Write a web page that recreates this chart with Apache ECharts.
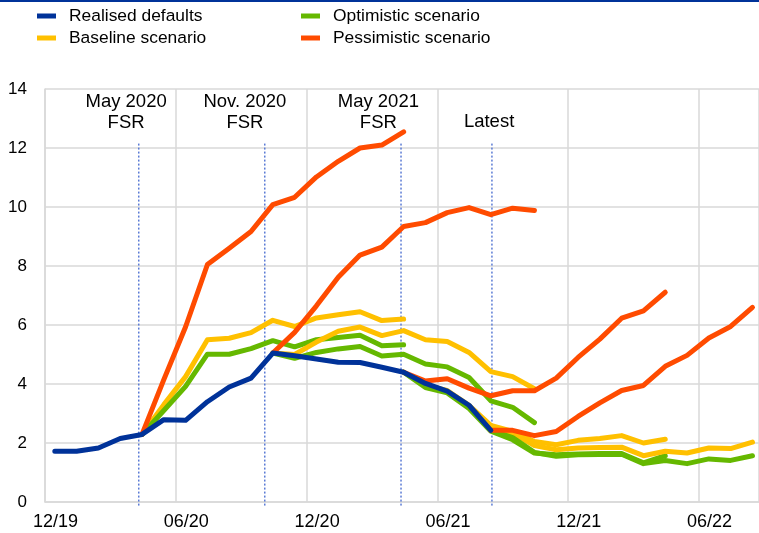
<!DOCTYPE html>
<html>
<head>
<meta charset="utf-8">
<script src="https://cdn.jsdelivr.net/npm/echarts@6/dist/echarts.min.js"></script>
<style>
  html, body { margin: 0; padding: 0; background: #fff; }
  #chart { width: 759px; height: 533px; }
</style>
</head>
<body>
<div id="chart"></div>
<script>
// month categories, Dec 2019 .. Aug 2022
var months = ['12/19', '01/20', '02/20', '03/20', '04/20', '05/20', '06/20', '07/20', '08/20', '09/20', '10/20', '11/20',
  '12/20', '01/21', '02/21', '03/21', '04/21', '05/21', '06/21', '07/21', '08/21', '09/21', '10/21', '11/21',
  '12/21', '01/22', '02/22', '03/22', '04/22', '05/22', '06/22', '07/22', '08/22'];
var tickLabels = ['12/19', '06/20', '12/20', '06/21', '12/21', '06/22'];

// realised defaults, from 12/19
var realised = [1.72, 1.72, 1.83, 2.15, 2.29, 2.79, 2.77, 3.4, 3.9, 4.2, 5.05, 4.96, 4.85, 4.74, 4.73, 4.57, 4.4, 4.02, 3.76, 3.28, 2.43];

// May 2020 FSR, from 04/20
var may20Base = [2.29, 3.3, 4.25, 5.5, 5.55, 5.74, 6.16, 5.95, 6.24, 6.35, 6.45, 6.15, 6.2];
var may20Opt = [2.29, 3.1, 3.92, 5.01, 5.01, 5.2, 5.47, 5.26, 5.5, 5.58, 5.65, 5.3, 5.33];
var may20Pess = [2.29, 4.15, 5.94, 8.05, 8.6, 9.17, 10.08, 10.33, 11.02, 11.55, 12.0, 12.1, 12.55];

// Nov. 2020 FSR, from 10/20
var nov20Base = [5.05, 5.0, 5.42, 5.79, 5.93, 5.64, 5.81, 5.5, 5.44, 5.07, 4.42, 4.25, 3.84];
var nov20Opt = [5.05, 4.87, 5.07, 5.19, 5.27, 4.95, 5.01, 4.68, 4.58, 4.22, 3.43, 3.21, 2.69];
var nov20Pess = [5.05, 5.75, 6.65, 7.62, 8.37, 8.64, 9.34, 9.47, 9.81, 9.98, 9.74, 9.96, 9.88];

// May 2021 FSR, from 04/21
var may21Base = [4.4, 3.95, 3.78, 3.28, 2.6, 2.39, 2.05, 1.94, 2.09, 2.15, 2.25, 2.0, 2.13];
var may21Opt = [4.4, 3.88, 3.7, 3.17, 2.4, 2.11, 1.66, 1.6, 1.63, 1.64, 1.64, 1.33, 1.57];
var may21Pess = [4.4, 4.1, 4.18, 3.86, 3.6, 3.77, 3.77, 4.2, 4.9, 5.52, 6.23, 6.48, 7.11];

// Latest, from 08/21
var latestBase = [2.43, 2.34, 1.91, 1.77, 1.83, 1.85, 1.86, 1.57, 1.72, 1.66, 1.83, 1.81, 2.03];
var latestOpt = [2.43, 2.18, 1.68, 1.55, 1.6, 1.61, 1.62, 1.3, 1.41, 1.3, 1.46, 1.41, 1.57];
var latestPess = [2.43, 2.43, 2.25, 2.39, 2.9, 3.36, 3.78, 3.95, 4.6, 4.97, 5.56, 5.95, 6.6];

// vintage markers (month position) and their labels
var fsrX = [4.3, 10.08, 16.33, 20.5];
var fsrLabels = ['May 2020\nFSR', 'Nov. 2020\nFSR', 'May 2021\nFSR', 'Latest'];
var fsrLabelX = [3.72, 9.17, 15.29, 20.37];
var fsrLabelY = [13.19, 13.19, 13.19, 12.89];

var names = {
  real: 'Realised defaults',
  base: 'Baseline scenario',
  opt: 'Optimistic scenario',
  pess: 'Pessimistic scenario'
};
var colors = {
  real: '#003299',
  base: '#FFC000',
  opt: '#65B800',
  pess: '#FF4B00'
};

var FONT = 'Liberation Sans, Arial, sans-serif';
var midMonth = 0.45; // observations sit mid-month

function toPoints(start, values) {
  return values.map(function (v, k) {
    return [months.indexOf(start) + k + midMonth, v];
  });
}

function lineSeries(key, start, values) {
  return {
    name: names[key],
    type: 'line',
    data: toPoints(start, values),
    symbol: 'none',
    color: colors[key],
    lineStyle: { width: 5, color: colors[key], cap: 'round', join: 'round' },
    emphasis: { disabled: true },
    silent: true
  };
}

var series = [];

// dotted vertical lines
fsrX.forEach(function (x) {
  series.push({
    type: 'line',
    data: [[x, 12.15], [x, -0.17]],
    symbol: 'none',
    clip: false,
    silent: true,
    lineStyle: { width: 1.5, color: '#5B7BD5', type: [2, 2] }
  });
});

// annotations
series.push({
  type: 'scatter',
  symbolSize: 0,
  silent: true,
  itemStyle: { opacity: 1 },
  data: fsrLabels.map(function (t, k) {
    return { value: [fsrLabelX[k], fsrLabelY[k]], name: t };
  }),
  label: {
    show: true,
    position: 'inside',
    formatter: function (p) { return p.name; },
    color: '#000',
    opacity: 1,
    fontFamily: FONT,
    fontSize: 18.5,
    lineHeight: 21
  }
});

var vintages = [
  ['04/20', may20Base, may20Opt, may20Pess],
  ['10/20', nov20Base, nov20Opt, nov20Pess],
  ['04/21', may21Base, may21Opt, may21Pess],
  ['08/21', latestBase, latestOpt, latestPess]
];
vintages.forEach(function (v) {
  series.push(lineSeries('base', v[0], v[1]));
  series.push(lineSeries('opt', v[0], v[2]));
  series.push(lineSeries('pess', v[0], v[3]));
});
series.push(lineSeries('real', '12/19', realised));

var legendBase = {
  orient: 'vertical',
  top: 5,
  padding: 0,
  itemGap: 0,
  icon: 'rect',
  itemWidth: 19,
  itemHeight: 5,
  selectedMode: false,
  textStyle: { fontFamily: FONT, fontSize: 17.4, color: '#000', lineHeight: 22, padding: [0, 0, 0, 8] }
};

var option = {
  animation: false,
  backgroundColor: '#fff',
  graphic: [{
    type: 'rect',
    shape: { x: 0, y: 0, width: 759, height: 2 },
    style: { fill: '#003299' },
    silent: true
  }],
  legend: [
    Object.assign({}, legendBase, { left: 37, data: [names.real, names.base] }),
    Object.assign({}, legendBase, { left: 301, data: [names.opt, names.pess] })
  ],
  grid: { left: 45, right: 0, top: 89, bottom: 31 },
  xAxis: {
    type: 'value',
    min: 0,
    max: 32.75,
    interval: 6,
    axisLine: { show: true, lineStyle: { color: '#D9D9D9', width: 1.5 } },
    axisTick: { show: false },
    splitLine: { show: true, lineStyle: { color: '#D9D9D9', width: 1.5 } },
    axisLabel: {
      showMaxLabel: false,
      margin: 11,
      padding: [0, 0, 0, 21],
      fontFamily: FONT,
      fontSize: 18,
      color: '#000',
      formatter: function (v) {
        var lbl = months[Math.round(v)];
        return (v % 6 === 0 && tickLabels.indexOf(lbl) >= 0) ? lbl : '';
      }
    }
  },
  yAxis: {
    type: 'value',
    min: 0,
    max: 14,
    interval: 2,
    axisLine: { show: true, lineStyle: { color: '#D9D9D9', width: 1.5 } },
    axisTick: { show: false },
    splitLine: { lineStyle: { color: '#D9D9D9', width: 1.5 } },
    axisLabel: { margin: 18, fontFamily: FONT, fontSize: 17, color: '#000' }
  },
  series: series
};

var chart = echarts.init(document.getElementById('chart'), null, { renderer: 'canvas' });
chart.setOption(option);
</script>
</body>
</html>
